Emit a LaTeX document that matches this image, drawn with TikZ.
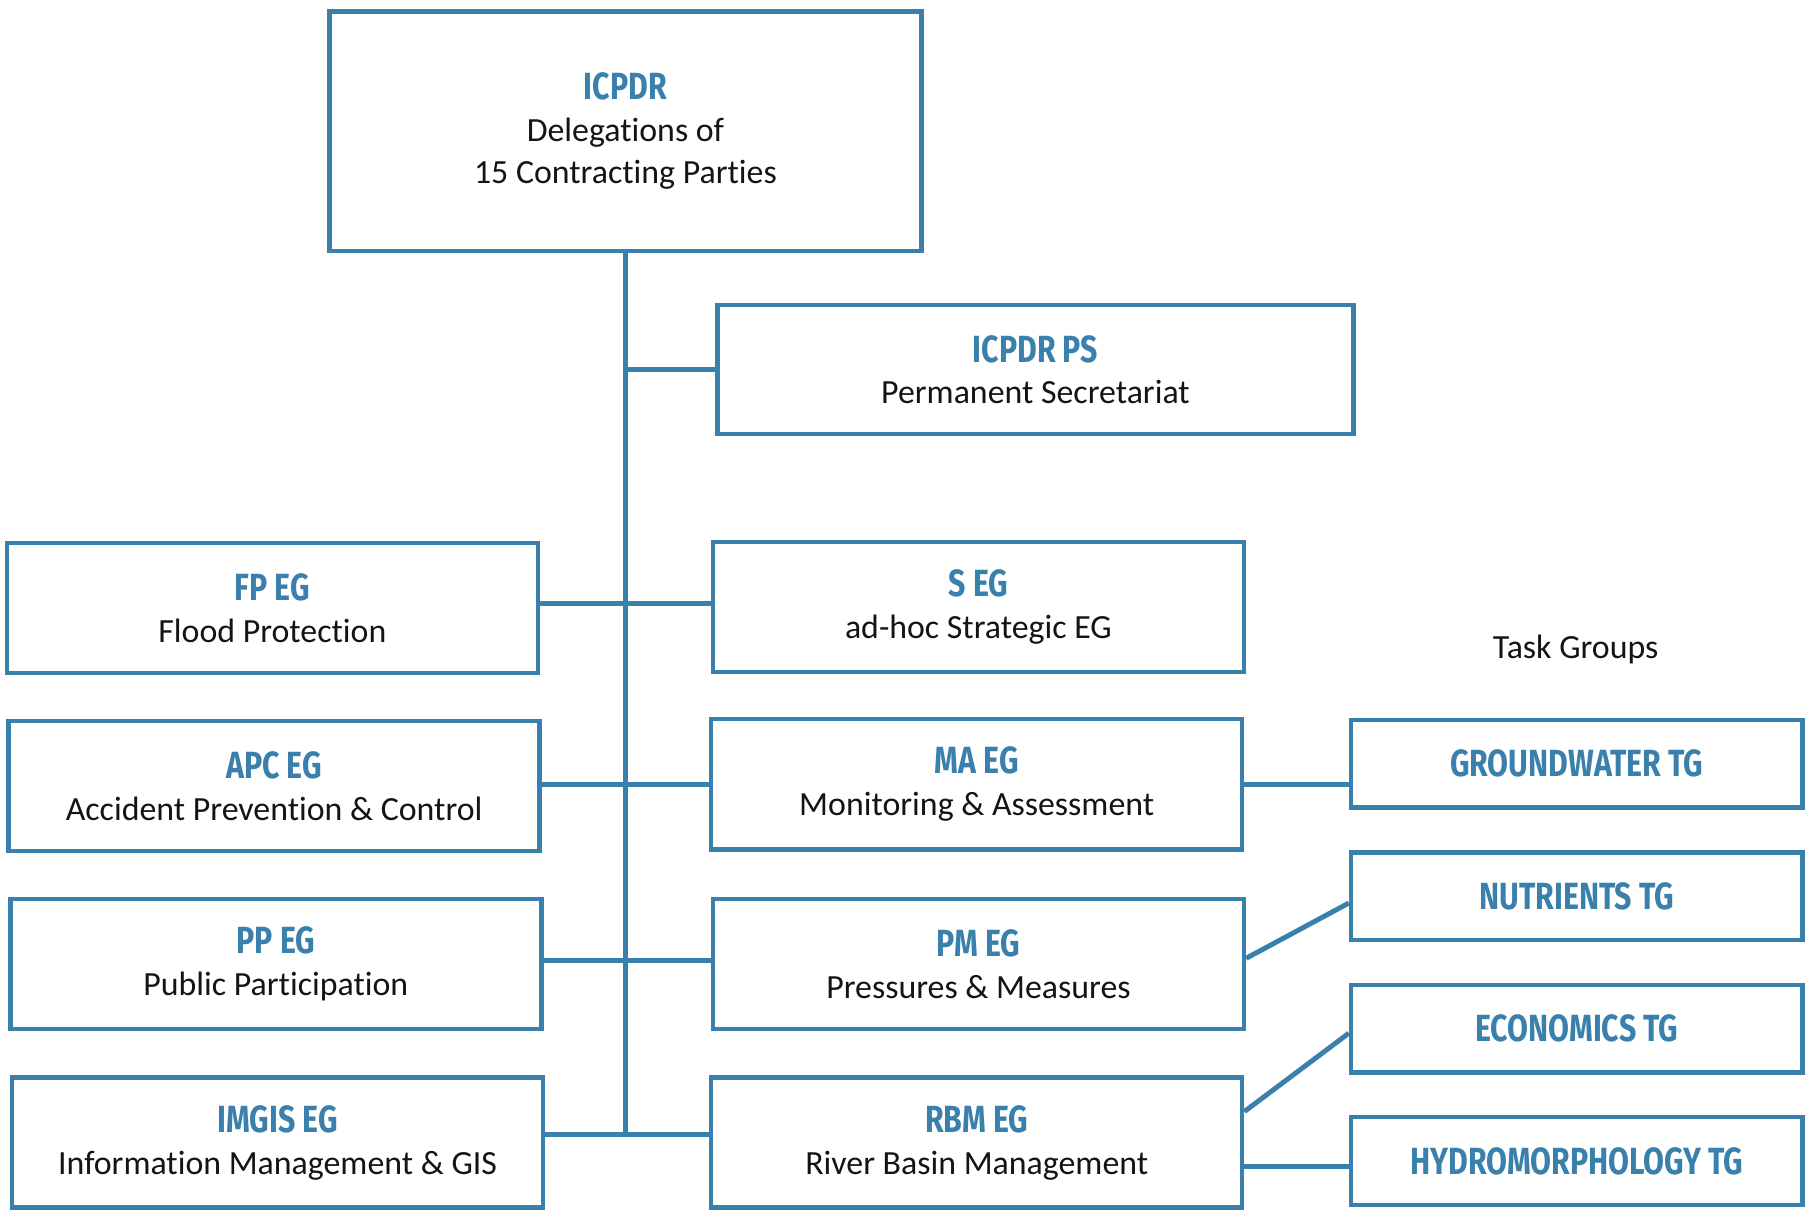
\documentclass[tikz,border=0pt]{standalone}
\usepackage{fontspec}
\setmainfont{Carlito}[Ligatures=NoCommon]
\newfontfamily\headfont[FakeStretch=0.8]{Fira Sans}
\definecolor{boxColor}{HTML}{3A80AC}
\definecolor{linkColor}{HTML}{3A80AC}
\definecolor{headColor}{HTML}{3A80AC}
\definecolor{bodyColor}{HTML}{141414}
\newcommand\head[1]{{\headfont\bfseries\fontsize{33}{36}\selectfont\color{headColor}#1}}
\tikzset{
  unitbox/.style={draw=boxColor, line width=3.8bp, inner sep=0pt, align=center,
    text=bodyColor, font=\fontsize{29.5}{36.5}\selectfont},
  egbox/.style={unitbox, minimum width=461bp, minimum height=113bp},
  tgbox/.style={unitbox, minimum width=392bp, minimum height=76bp},
  link/.style={draw=linkColor, line width=4.3bp},
}

\begin{document}
\begin{tikzpicture}[x=1bp,y=-1bp]
\useasboundingbox (0,0) rectangle (1568,1057);

% commission and secretariat
\begin{scope}
\node[unitbox, minimum width=514bp, minimum height=208bp] (icpdr) at (543,114)
  {\head{ICPDR}\\Delegations of\\15 Contracting Parties};
\node[unitbox, minimum width=552bp, minimum height=112bp] (ps) at (899,321)
  {\head{ICPDR PS}\\Permanent Secretariat};
\end{scope}

% expert groups, left column
\begin{scope}
\node[egbox] (fp) at (236.5,528) {\head{FP EG}\\Flood Protection};
\node[egbox] (apc) at (238,682.5) {\head{APC EG}\\Accident Prevention \& Control};
\node[egbox] (pp) at (239.5,837) {\head{PP EG}\\Public Participation};
\node[egbox] (imgis) at (241,992) {\head{IMGIS EG}\\Information Management \& GIS};
\end{scope}

% expert groups, right column
\begin{scope}
\node[egbox] (seg) at (849.5,527) {\head{S EG}\\ad-hoc Strategic EG};
\node[egbox] (ma) at (848,681) {\head{MA EG}\\Monitoring \& Assessment};
\node[egbox] (pm) at (849.5,837) {\head{PM EG}\\Pressures \& Measures};
\node[egbox] (rbm) at (848,992) {\head{RBM EG}\\River Basin Management};
\end{scope}

% task groups
\begin{scope}
\node[text=bodyColor, font=\fontsize{29.5}{36.5}\selectfont] (tglabel) at (1368,564) {Task Groups};
\node[tgbox] (gw) at (1369,663) {\head{GROUNDWATER TG}};
\node[tgbox] (nut) at (1369,778) {\head{NUTRIENTS TG}};
\node[tgbox] (eco) at (1369,893) {\head{ECONOMICS TG}};
\node[tgbox] (hyd) at (1369,1008) {\head{HYDROMORPHOLOGY TG}};
\end{scope}

% link layer
\begin{scope}
\coordinate (jPS) at (icpdr.south |- ps.west);
\coordinate (jFP) at (543,524);
\coordinate (jAPC) at (543,681);
\coordinate (jPP) at (543,834);
\coordinate (jLow) at (543,985);
\draw[link] (icpdr.south) -- (jLow);
\draw[link] (jPS) -- (ps.west);
\draw[link] (fp.east |- jFP) -- (seg.west |- jFP);
\draw[link] (apc.east |- jAPC) -- (ma.west |- jAPC);
\draw[link] (pp.east |- jPP) -- (pm.west |- jPP);
\draw[link] (imgis.east |- jLow) -- (rbm.west |- jLow);
\draw[link] (ma.east) -- (ma.east -| gw.west);
\draw[link] ([yshift=5bp]pm.east) -- ([yshift=-6bp]nut.west);
\draw[link] ([yshift=27bp]rbm.east) -- ([yshift=-4bp]eco.west);
\coordinate (rbmHy) at ([yshift=-21bp]rbm.east);
\draw[link] (rbmHy) -- (rbmHy -| hyd.west);
\end{scope}

\end{tikzpicture}
\end{document}
